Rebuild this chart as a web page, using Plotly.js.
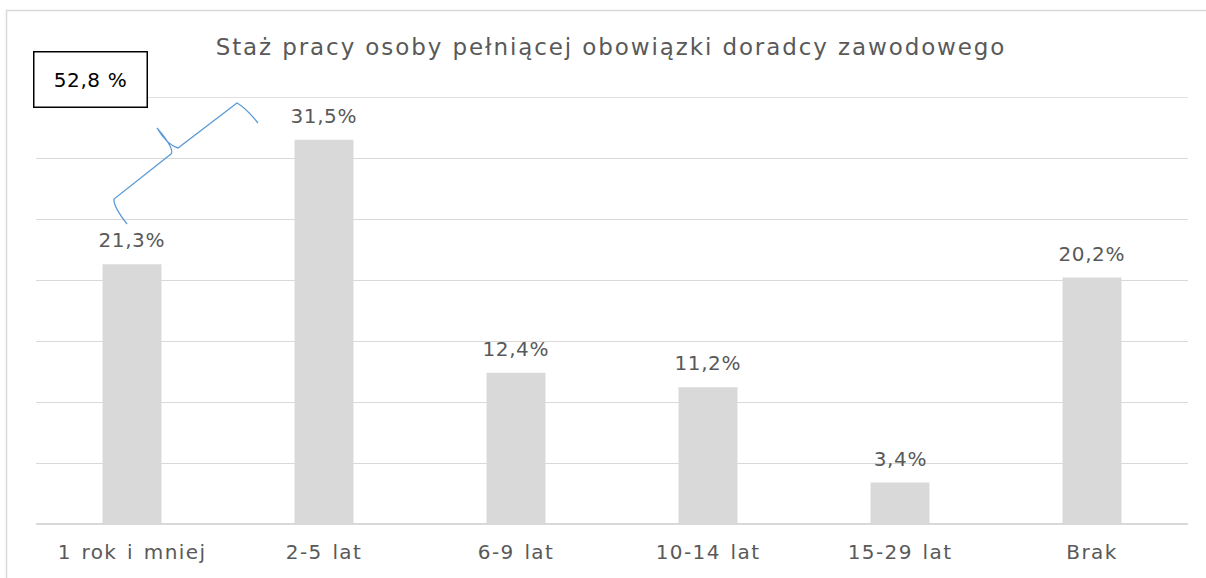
<!DOCTYPE html>
<html>
<head>
<meta charset="utf-8">
<script src="https://cdn.plot.ly/plotly-3.0.1.min.js"></script>
<style>
html,body{margin:0;padding:0;background:#fff;}
#chart{width:1206px;height:578px;}
#chart .gtitle{letter-spacing:1.9px;}
#chart .xtick text{letter-spacing:1.4px;word-spacing:2px;}
#chart .annotation-text{letter-spacing:0.6px;}
</style>
</head>
<body>
<div id="chart"></div>
<script>
const categories = ["1 rok i mniej", "2-5 lat", "6-9 lat", "10-14 lat", "15-29 lat", "Brak"];
const values = [21.3, 31.5, 12.4, 11.2, 3.4, 20.2];
const valueLabels = ["21,3%", "31,5%", "12,4%", "11,2%", "3,4%", "20,2%"];
const titleText = "Staż pracy osoby pełniącej obowiązki doradcy zawodowego";
const boxLabel = "52,8 %";
const yMax = 35;
const yStep = 5;

const W = 1206, H = 578;
const M = {l: 36, r: 18, t: 97, b: 54};
const PW = W - M.l - M.r, PH = H - M.t - M.b;
const px = x => (x - M.l) / PW;
const py = y => (H - M.b - y) / PH;

const FONT = "DejaVu Sans, sans-serif";
const GREY = "#595959";
const GRID = "#d9d9d9";

function pathFrom(cmds) {
  return cmds.map(c => c[0] + " " + c.slice(1).map((v, i) =>
    (i % 2 === 0 ? px(v) : py(v)).toFixed(5)).join(" ")).join(" ");
}

const bracePath = pathFrom([
  ["M", 127, 224],
  ["Q", 113, 206, 114, 199],
  ["L", 171, 154],
  ["Q", 175, 149, 157, 128],
  ["M", 157, 128],
  ["Q", 167, 145, 178, 148],
  ["L", 237, 103],
  ["Q", 246, 108, 258, 123]
]);

const annotations = categories.map((c, i) => ({
  x: c, y: values[i], xref: "x", yref: "y",
  text: valueLabels[i], showarrow: false,
  yanchor: "bottom", yshift: 10,
  font: {family: FONT, size: 20, color: GREY}
}));
annotations.push({
  xref: "paper", yref: "paper", x: px(90), y: py(80),
  xanchor: "center", yanchor: "middle",
  text: boxLabel, showarrow: false,
  width: 112, height: 54,
  bgcolor: "#ffffff", bordercolor: "#000000", borderwidth: 1.5, borderpad: 0,
  font: {family: FONT, size: 20, color: "#000000"}
});

const data = [{
  type: "bar",
  x: categories,
  y: values,
  marker: {color: "#d9d9d9"},
  hoverinfo: "none"
}];

const layout = {
  width: W, height: H,
  margin: M,
  paper_bgcolor: "#ffffff", plot_bgcolor: "#ffffff",
  showlegend: false,
  bargap: 0.693,
  title: {
    text: titleText,
    font: {family: FONT, size: 23, color: GREY},
    x: px(611), xref: "paper", xanchor: "center",
    y: 1 - 47 / H, yref: "container", yanchor: "middle"
  },
  xaxis: {
    type: "category",
    showgrid: false, showline: false, zeroline: false,
    ticks: "",
    tickfont: {family: FONT, size: 20, color: GREY},
    ticklabelstandoff: 14
  },
  yaxis: {
    range: [0, yMax],
    dtick: yStep, tick0: 0,
    showticklabels: false,
    showgrid: true, gridcolor: GRID, gridwidth: 1,
    zeroline: true, zerolinecolor: GRID, zerolinewidth: 1.5,
    showline: false, ticks: ""
  },
  shapes: [
    {type: "rect", xref: "paper", yref: "paper", layer: "below",
     x0: px(6.5), x1: px(1215), y0: py(590), y1: py(10.5),
     line: {color: GRID, width: 1.5}, fillcolor: "rgba(0,0,0,0)"},
    {type: "line", xref: "paper", yref: "y", layer: "below",
     x0: 0, x1: 1, y0: yMax, y1: yMax,
     line: {color: GRID, width: 1.5}},
    {type: "path", xref: "paper", yref: "paper", path: bracePath,
     line: {color: "#5b9bd5", width: 1.3}}
  ],
  annotations: annotations
};

Plotly.newPlot("chart", data, layout, {displayModeBar: false, staticPlot: true});
</script>
</body>
</html>
